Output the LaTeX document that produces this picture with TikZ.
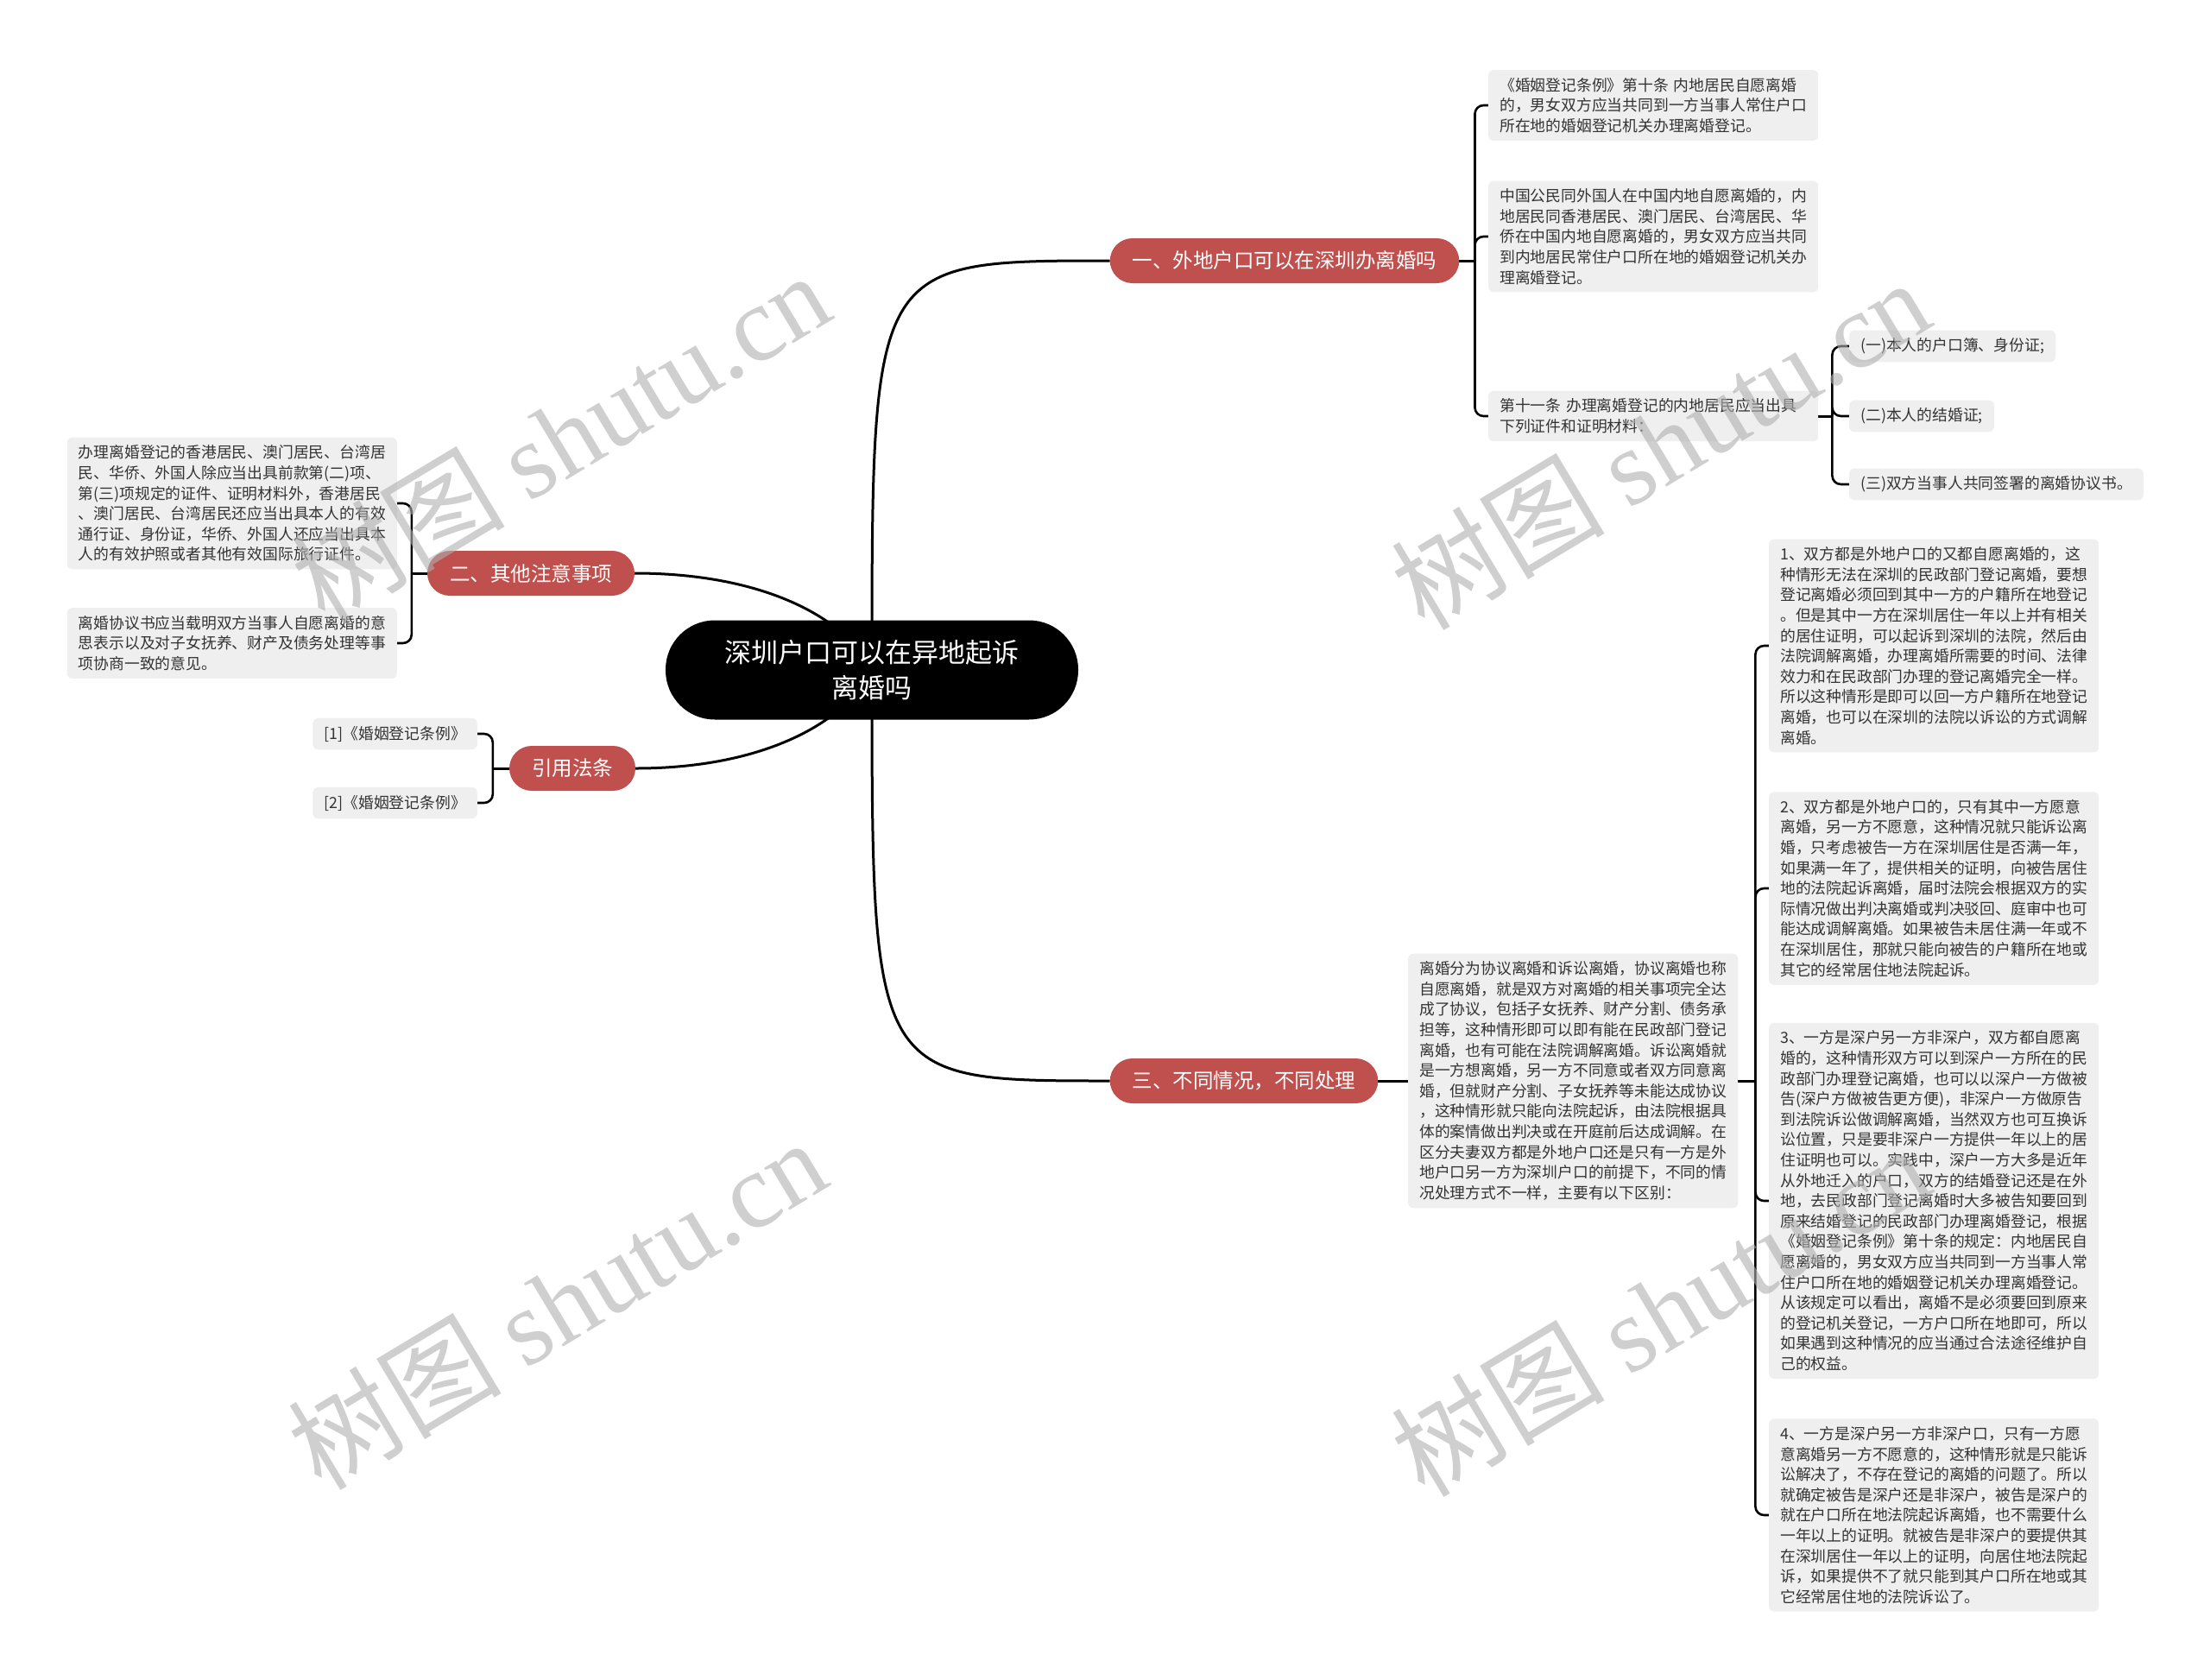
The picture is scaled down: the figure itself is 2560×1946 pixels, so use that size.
\documentclass[tikz,border=0pt]{standalone}
\usepackage{fontspec}
\newfontfamily\cjk{Noto Sans CJK SC}
\newfontfamily\wmserif{Liberation Serif}

\definecolor{branchred}{RGB}{192,80,77}
\definecolor{leafgray}{RGB}{239,239,239}
\definecolor{leaftext}{RGB}{51,51,51}
\definecolor{markgray}{RGB}{175,175,175}

\pgfdeclarelayer{paper}
\pgfdeclarelayer{lines}
\pgfsetlayers{paper,lines,main}

\tikzset{
  rootbox/.style={fill=black, text=white, rounded corners=57pt, minimum width=478pt,
    minimum height=115pt, align=center, font=\cjk\fontsize{31}{41}\selectfont},
  branchbox/.style={fill=branchred, text=white, rounded corners=26pt, minimum height=52pt,
    inner xsep=26pt, font=\cjk\fontsize{23.5}{28}\selectfont},
  leafbox/.style={fill=leafgray, text=leaftext, rounded corners=6pt, inner xsep=13pt,
    inner ysep=9pt, align=left, font=\cjk\fontsize{17.8}{23.6}\selectfont},
  wideleaf/.style={leafbox, text width=356pt},
  link/.style={line width=3pt},
  fork/.style={line width=2.6pt, rounded corners=10pt},
  watermark/.style={text=markgray, opacity=0.6, rotate=31, font=\fontsize{124}{124}\selectfont}
}

\begin{document}
\begin{tikzpicture}[x=1pt, y=-1pt]
  \begin{pgfonlayer}{paper}
    \fill[white] (0,0) rectangle (2560,1946);
  \end{pgfonlayer}
  \useasboundingbox (0,0) rectangle (2560,1946);

  % root and main branches
  \node[rootbox] (root) at (1010,776) {深圳户口可以在异地起诉\\离婚吗};
  \node[branchbox] (b1) at (1488,302) {一、外地户口可以在深圳办离婚吗};
  \node[branchbox] (b2) at (615,664) {二、其他注意事项};
  \node[branchbox] (bc) at (663,890) {引用法条};
  \node[branchbox] (b3) at (1441,1252) {三、不同情况，不同处理};

  % leaves of branch one
  \node[wideleaf, anchor=west] (la) at (1724,122) {《婚姻登记条例》第十条 内地居民自愿离婚\\的，男女双方应当共同到一方当事人常住户口\\所在地的婚姻登记机关办理离婚登记。};
  \node[wideleaf, anchor=west] (lb) at (1724,274) {中国公民同外国人在中国内地自愿离婚的，内\\地居民同香港居民、澳门居民、台湾居民、华\\侨在中国内地自愿离婚的，男女双方应当共同\\到内地居民常住户口所在地的婚姻登记机关办\\理离婚登记。};
  \node[wideleaf, anchor=west] (lc) at (1724,482) {第十一条 办理离婚登记的内地居民应当出具\\下列证件和证明材料：};
  \node[leafbox, anchor=west] (lc1) at (2142,401) {(一)本人的户口簿、身份证;};
  \node[leafbox, anchor=west] (lc2) at (2142,482) {(二)本人的结婚证;};
  \node[leafbox, anchor=west] (lc3) at (2142,561) {(三)双方当事人共同签署的离婚协议书。};

  % leaves of branch two
  \node[wideleaf, anchor=east] (ma) at (460,583) {办理离婚登记的香港居民、澳门居民、台湾居\\民、华侨、外国人除应当出具前款第(二)项、\\第(三)项规定的证件、证明材料外，香港居民\\、澳门居民、台湾居民还应当出具本人的有效\\通行证、身份证，华侨、外国人还应当出具本\\人的有效护照或者其他有效国际旅行证件。};
  \node[wideleaf, anchor=east] (mb) at (460,745) {离婚协议书应当载明双方当事人自愿离婚的意\\思表示以及对子女抚养、财产及债务处理等事\\项协商一致的意见。};

  % citations
  \node[leafbox, anchor=east] (ca) at (553,850) {[1]《婚姻登记条例》};
  \node[leafbox, anchor=east] (cb) at (553,930) {[2]《婚姻登记条例》};

  % branch three
  \node[wideleaf, anchor=west] (ta) at (1631,1252) {离婚分为协议离婚和诉讼离婚，协议离婚也称\\自愿离婚，就是双方对离婚的相关事项完全达\\成了协议，包括子女抚养、财产分割、债务承\\担等，这种情形即可以即有能在民政部门登记\\离婚，也有可能在法院调解离婚。诉讼离婚就\\是一方想离婚，另一方不同意或者双方同意离\\婚，但就财产分割、子女抚养等未能达成协议\\，这种情形就只能向法院起诉，由法院根据具\\体的案情做出判决或在开庭前后达成调解。在\\区分夫妻双方都是外地户口还是只有一方是外\\地户口另一方为深圳户口的前提下，不同的情\\况处理方式不一样，主要有以下区别：};
  \node[wideleaf, anchor=west] (t1) at (2049,748) {1、双方都是外地户口的又都自愿离婚的，这\\种情形无法在深圳的民政部门登记离婚，要想\\登记离婚必须回到其中一方的户籍所在地登记\\。但是其中一方在深圳居住一年以上并有相关\\的居住证明，可以起诉到深圳的法院，然后由\\法院调解离婚，办理离婚所需要的时间、法律\\效力和在民政部门办理的登记离婚完全一样。\\所以这种情形是即可以回一方户籍所在地登记\\离婚，也可以在深圳的法院以诉讼的方式调解\\离婚。};
  \node[wideleaf, anchor=west] (t2) at (2049,1029) {2、双方都是外地户口的，只有其中一方愿意\\离婚，另一方不愿意，这种情况就只能诉讼离\\婚，只考虑被告一方在深圳居住是否满一年，\\如果满一年了，提供相关的证明，向被告居住\\地的法院起诉离婚，届时法院会根据双方的实\\际情况做出判决离婚或判决驳回、庭审中也可\\能达成调解离婚。如果被告未居住满一年或不\\在深圳居住，那就只能向被告的户籍所在地或\\其它的经常居住地法院起诉。};
  \node[wideleaf, anchor=west] (t3) at (2049,1391) {3、一方是深户另一方非深户，双方都自愿离\\婚的，这种情形双方可以到深户一方所在的民\\政部门办理登记离婚，也可以以深户一方做被\\告(深户方做被告更方便)，非深户一方做原告\\到法院诉讼做调解离婚，当然双方也可互换诉\\讼位置，只是要非深户一方提供一年以上的居\\住证明也可以。实践中，深户一方大多是近年\\从外地迁入的户口，双方的结婚登记还是在外\\地，去民政部门登记离婚时大多被告知要回到\\原来结婚登记的民政部门办理离婚登记，根据\\《婚姻登记条例》第十条的规定：内地居民自\\愿离婚的，男女双方应当共同到一方当事人常\\住户口所在地的婚姻登记机关办理离婚登记。\\从该规定可以看出，离婚不是必须要回到原来\\的登记机关登记，一方户口所在地即可，所以\\如果遇到这种情况的应当通过合法途径维护自\\己的权益。};
  \node[wideleaf, anchor=west] (t4) at (2049,1755) {4、一方是深户另一方非深户口，只有一方愿\\意离婚另一方不愿意的，这种情形就是只能诉\\讼解决了，不存在登记的离婚的问题了。所以\\就确定被告是深户还是非深户，被告是深户的\\就在户口所在地法院起诉离婚，也不需要什么\\一年以上的证明。就被告是非深户的要提供其\\在深圳居住一年以上的证明，向居住地法院起\\诉，如果提供不了就只能到其户口所在地或其\\它经常居住地的法院诉讼了。};

  % fork points
  \coordinate (s1) at ([xshift=18pt]b1.east);
  \coordinate (sc) at ([xshift=16pt]lc.east);
  \coordinate (s2) at ([xshift=-18pt]b2.west);
  \coordinate (s4) at ([xshift=-19pt]bc.west);
  \coordinate (s3) at ([xshift=20pt]ta.east);

  \begin{pgfonlayer}{lines}
    % curves from the root
    \draw[link] (root.center) .. controls (root.center |- b1.west) .. (b1.west);
    \draw[link] (root.center) .. controls (root.center |- b3.west) .. (b3.west);
    \draw[link] (b2.east) .. controls +(150,0) and +(-30,-60) .. (root.center);
    \draw[link] (bc.east) .. controls +(150,0) and +(-30,60) .. (root.center);

    % forks
    \draw[link] (b1.east) -- (s1);
    \foreach \leaf in {la,lb,lc}
      \draw[fork] (s1) |- (\leaf.west);
    \draw[link] (lc.east) -- (sc);
    \foreach \leaf in {lc1,lc2,lc3}
      \draw[fork] (sc) |- (\leaf.west);
    \draw[link] (b2.west) -- (s2);
    \foreach \leaf in {ma,mb}
      \draw[fork] (s2) |- (\leaf.east);
    \draw[link] (bc.west) -- (s4);
    \foreach \leaf in {ca,cb}
      \draw[fork] (s4) |- (\leaf.east);
    \draw[link] (b3.east) -- (ta.west);
    \draw[link] (ta.east) -- (s3);
    \foreach \leaf in {t1,t2,t3,t4}
      \draw[fork] (s3) |- (\leaf.west);
  \end{pgfonlayer}

  % watermarks
  \node[watermark] (wm1) at (649,506) {\cjk 树图 \wmserif shutu.cn};
  \node[watermark] (wm2) at (1923,514) {\cjk 树图 \wmserif shutu.cn};
  \node[watermark] (wm3) at (645,1510) {\cjk 树图 \wmserif shutu.cn};
  \node[watermark] (wm4) at (1923,1518) {\cjk 树图 \wmserif shutu.cn};
\end{tikzpicture}
\end{document}
